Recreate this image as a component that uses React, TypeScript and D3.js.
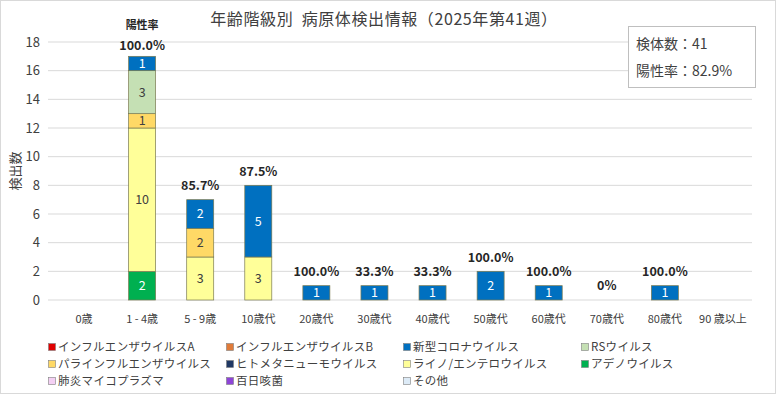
import React from "react";
import * as d3 from "d3";

const categories = ["0歳", "1 - 4歳", "5 - 9歳", "10歳代", "20歳代", "30歳代", "40歳代", "50歳代", "60歳代", "70歳代", "80歳代", "90 歳以上"];

const seriesNames = [
  "インフルエンザウイルスA",
  "インフルエンザウイルスB",
  "新型コロナウイルス",
  "RSウイルス",
  "パラインフルエンザウイルス",
  "ヒトメタニューモウイルス",
  "ライノ/エンテロウイルス",
  "アデノウイルス",
  "肺炎マイコプラズマ",
  "百日咳菌",
  "その他",
];

const seriesColors = ["#e00000", "#e07b39", "#0070c0", "#c5e0b4", "#ffd966", "#203864", "#ffff99", "#00b050", "#f4d0f4", "#8e44d8", "#ddebf7"];

const fluA = [0, 0, 0, 0, 0, 0, 0, 0, 0, 0, 0, 0];
const fluB = [0, 0, 0, 0, 0, 0, 0, 0, 0, 0, 0, 0];
const covid = [0, 1, 2, 5, 1, 1, 1, 2, 1, 0, 1, 0];
const rsv = [0, 3, 0, 0, 0, 0, 0, 0, 0, 0, 0, 0];
const parainflu = [0, 1, 2, 0, 0, 0, 0, 0, 0, 0, 0, 0];
const hmpv = [0, 0, 0, 0, 0, 0, 0, 0, 0, 0, 0, 0];
const rhino = [0, 10, 3, 3, 0, 0, 0, 0, 0, 0, 0, 0];
const adeno = [0, 2, 0, 0, 0, 0, 0, 0, 0, 0, 0, 0];
const myco = [0, 0, 0, 0, 0, 0, 0, 0, 0, 0, 0, 0];
const pertussis = [0, 0, 0, 0, 0, 0, 0, 0, 0, 0, 0, 0];
const others = [0, 0, 0, 0, 0, 0, 0, 0, 0, 0, 0, 0];

const seriesValues = [fluA, fluB, covid, rsv, parainflu, hmpv, rhino, adeno, myco, pertussis, others];

const positiveRates = ["", "100.0%", "85.7%", "87.5%", "100.0%", "33.3%", "33.3%", "100.0%", "100.0%", "0%", "100.0%", ""];

const yTicks = [0, 2, 4, 6, 8, 10, 12, 14, 16, 18];

const FONT = "'Noto Sans CJK JP', 'Noto Sans', sans-serif";
const W = 778;
const H = 395;

export default function App() {
  React.useEffect(() => {
    document.body.style.margin = "0";
  }, []);

  const x = d3.scaleBand<string>().domain(categories).range([55, 752]).paddingInner(0.535).paddingOuter(0.2675);
  const y = d3.scaleLinear().domain([0, 18]).range([300, 42]);

  // Excel stacks series in reverse order of the legend
  const stackOrder = d3.range(seriesNames.length).reverse();
  const rows = categories.map((c, i) => {
    const r: Record<string, number | string> = { cat: c };
    seriesNames.forEach((s, k) => (r[s] = seriesValues[k][i]));
    return r;
  });
  const stack = d3.stack<Record<string, number | string>>()
    .keys(stackOrder.map(k => seriesNames[k]))
    .value((d, key) => d[key] as number);
  const layers = stack(rows);

  const totals = categories.map((_, i) => d3.sum(seriesValues, s => s[i]));

  const darkText = new Set(["RSウイルス", "パラインフルエンザウイルス", "ライノ/エンテロウイルス", "その他", "肺炎マイコプラズマ"]);

  const legendCols = [52, 230, 407, 585];
  const legendRows = [347, 364, 381];

  return (
    <svg width={W} height={H} style={{ position: "absolute", left: 0, top: 0, fontFamily: FONT }}>
      <rect x={0.5} y={0.5} width={W - 3} height={H - 2} fill="#fff" stroke="#d9d9d9" />

      {/* title */}
      <text x={384} y={25} textAnchor="middle" fontSize={16} letterSpacing={0.6} fill="#404040" style={{ whiteSpace: "pre" }}>
        {"年齢階級別  病原体検出情報（2025年第41週）"}
      </text>

      {/* grid + y axis */}
      {yTicks.map(t => (
        <g key={t}>
          <line x1={48} x2={752} y1={y(t)} y2={y(t)} stroke="#d9d9d9" strokeWidth={1} />
          <text x={40} y={y(t)} dy="0.35em" textAnchor="end" fontSize={13} fill="#404040">{t}</text>
        </g>
      ))}
      <text transform={`translate(15,${y(9)}) rotate(-90)`} textAnchor="middle" dy="0.35em" fontSize={13} fill="#404040">検出数</text>

      {/* stacked bars */}
      {layers.map(layer => {
        const k = seriesNames.indexOf(layer.key);
        return (
          <g key={layer.key}>
            {layer.map((d, i) => {
              const v = d[1] - d[0];
              if (v <= 0) return null;
              const bx = x(categories[i])!;
              const y0 = y(d[0]);
              const y1 = y(d[1]);
              return (
                <g key={i}>
                  <rect x={bx} y={y1} width={x.bandwidth()} height={y0 - y1} fill={seriesColors[k]} stroke="#7a7a50" strokeWidth={0.7} />
                  <text x={bx + x.bandwidth() / 2} y={(y0 + y1) / 2} dy="0.35em" textAnchor="middle" fontSize={12.5}
                    fill={darkText.has(layer.key) ? "#404040" : "#ffffff"}>{v}</text>
                </g>
              );
            })}
          </g>
        );
      })}

      {/* positive rate labels */}
      <text x={x(categories[1])! + x.bandwidth() / 2} y={25} dy="0.35em" textAnchor="middle" fontSize={11} fontWeight="bold" fill="#262626">陽性率</text>
      {positiveRates.map((p, i) => p && (
        <text key={i} x={x(categories[i])! + x.bandwidth() / 2} y={Math.max(y(totals[i]) - 14, y(18) + 4)} dy="0.35em" textAnchor="middle"
          fontSize={12.5} fontWeight="bold" fill="#262626">{p}</text>
      ))}

      {/* x axis labels */}
      {categories.map(c => (
        <text key={c} x={x(c)! + x.bandwidth() / 2} y={319} dy="0.35em" textAnchor="middle" fontSize={11} fill="#404040">{c}</text>
      ))}

      {/* info box */}
      <rect x={628.5} y={26.5} width={127} height={61} fill="#fff" stroke="#bfbfbf" />
      <text x={636} y={44} dy="0.35em" fontSize={14} fill="#404040">検体数：41</text>
      <text x={636} y={71} dy="0.35em" fontSize={14} fill="#404040">陽性率：82.9%</text>

      {/* legend */}
      {seriesNames.map((s, k) => {
        const lx = legendCols[k % 4];
        const ly = legendRows[Math.floor(k / 4)];
        return (
          <g key={s}>
            <rect x={lx - 3.5} y={ly - 3.5} width={7} height={7} fill={seriesColors[k]} stroke="#7f7f7f" strokeWidth={0.6} />
            <text x={lx + 6} y={ly} dy="0.35em" fontSize={11.5} letterSpacing={0.3} fill="#404040">{s}</text>
          </g>
        );
      })}
    </svg>
  );
}
